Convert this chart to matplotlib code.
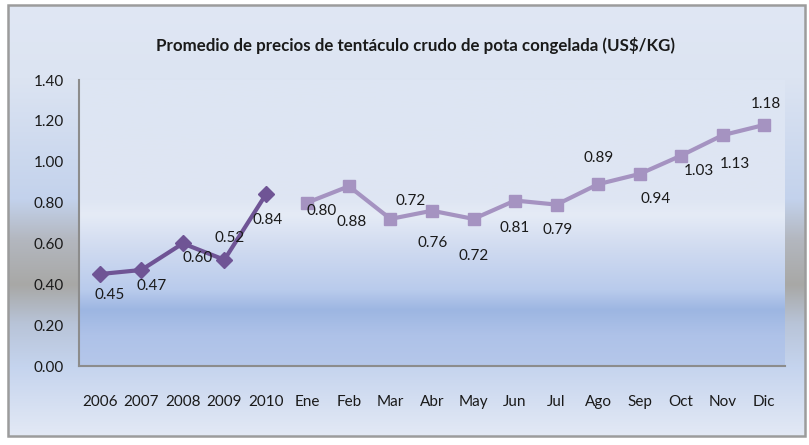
import numpy as np
import matplotlib.pyplot as plt
from matplotlib.colors import to_rgb
from matplotlib.patches import Rectangle

plt.rcParams['font.family'] = ['Lato', 'DejaVu Sans']

categorias = ['2006', '2007', '2008', '2009', '2010', 'Ene', 'Feb', 'Mar', 'Abr',
              'May', 'Jun', 'Jul', 'Ago', 'Sep', 'Oct', 'Nov', 'Dic']
anios = ['2006', '2007', '2008', '2009', '2010']
precio_anual = [0.45, 0.47, 0.60, 0.52, 0.84]
meses = ['Ene', 'Feb', 'Mar', 'Abr', 'May', 'Jun', 'Jul', 'Ago', 'Sep', 'Oct', 'Nov', 'Dic']
precio_mensual = [0.80, 0.88, 0.72, 0.76, 0.72, 0.81, 0.79, 0.89, 0.94, 1.03, 1.13, 1.18]
yticks = [0.0, 0.2, 0.4, 0.6, 0.8, 1.0, 1.2, 1.4]

# label offsets in pixels (x, y) relative to each point
off_anual = [(10, -21), (10, -16), (15, -15), (5, 22), (2, -26)]
off_mensual = [(14, -8), (3, -36), (20, 18), (1, -32), (0, -37), (0, -27), (1, -25),
               (1, 26), (16, -25), (18, -15), (12, -29), (2, 21)]


def gradient(stops, n=400):
    pos = [s[0] for s in stops]
    cols = np.array([to_rgb(s[1]) for s in stops])
    t = np.linspace(0, 1, n)
    img = np.stack([np.interp(t, pos, cols[:, k]) for k in range(3)], axis=1)
    return img[:, None, :]


fig = plt.figure(figsize=(8.09, 4.45), dpi=100)
fig.patch.set_facecolor('white')

# chart area background
bg = fig.add_axes([0, 0, 1, 1])
bg.set_xlim(0, 809)
bg.set_ylim(445, 0)
bg.axis('off')
chart_stops = [(0.0, '#e0e7f4'), (0.17, '#dce4f2'), (0.45, '#c3d2ec'), (0.545, '#b3b7bf'),
               (0.65, '#a8a8a6'), (0.74, '#b8c4d8'), (0.84, '#c5d4ee'), (1.0, '#e3e9f5')]
bg.imshow(gradient(chart_stops), extent=(8, 805, 436, 5), aspect='auto', zorder=0)
bg.add_patch(Rectangle((8, 5), 797, 431, fill=False, edgecolor='#9c9c9c', lw=1.8, zorder=2))

ax = fig.add_axes([79 / 809, 1 - 366 / 445, (785 - 79) / 809, (366 - 80) / 445])
plot_stops = [(0.0, '#dde5f3'), (0.42, '#dfe6f3'), (0.47, '#e5ebf6'), (0.594, '#cfdaf0'),
              (0.734, '#b9cbec'), (0.804, '#9db6e2'), (0.892, '#aec2e8'), (1.0, '#b5c7ea')]
ax.imshow(gradient(plot_stops), extent=(0, 1, 0, 1), transform=ax.transAxes,
          aspect='auto', zorder=0)

x_all = np.arange(len(categorias))
xa = [categorias.index(c) for c in anios]
xm = [categorias.index(c) for c in meses]

ax.plot(xa, precio_anual, color='#6f5495', lw=3, marker='D', ms=8, zorder=3)
ax.plot(xm, precio_mensual, color='#a593c1', lw=3, marker='s', ms=9, zorder=3)

for x, v, o in zip(xa, precio_anual, off_anual):
    ax.annotate(f'{v:.2f}', (x, v), xytext=o, textcoords='offset pixels',
                ha='center', va='center', fontsize=11, color='#1a1a1a')
for x, v, o in zip(xm, precio_mensual, off_mensual):
    ax.annotate(f'{v:.2f}', (x, v), xytext=o, textcoords='offset pixels',
                ha='center', va='center', fontsize=11, color='#1a1a1a')

ax.set_xlim(-0.5, len(categorias) - 0.5)
ax.set_ylim(0, 1.4)
ax.set_xticks(x_all)
ax.set_xticklabels(categorias)
ax.set_yticks(yticks)
ax.set_yticklabels([f'{t:.2f}' for t in yticks])
ax.tick_params(axis='both', length=0, labelsize=11, colors='#1a1a1a')
ax.tick_params(axis='y', pad=11)
ax.tick_params(axis='x', pad=21)
for s in ['top', 'right']:
    ax.spines[s].set_visible(False)
for s in ['left', 'bottom']:
    ax.spines[s].set_color('#8c8c8c')
    ax.spines[s].set_linewidth(1.5)
ax.set_facecolor('none')

fig.text(416 / 809, 1 - 45 / 445, 'Promedio de precios de tentáculo crudo de pota congelada (US$/KG)',
         ha='center', va='center', fontsize=12.2, fontweight='bold', color='#1a1a1a')

fig.savefig('out.png', dpi=100)
